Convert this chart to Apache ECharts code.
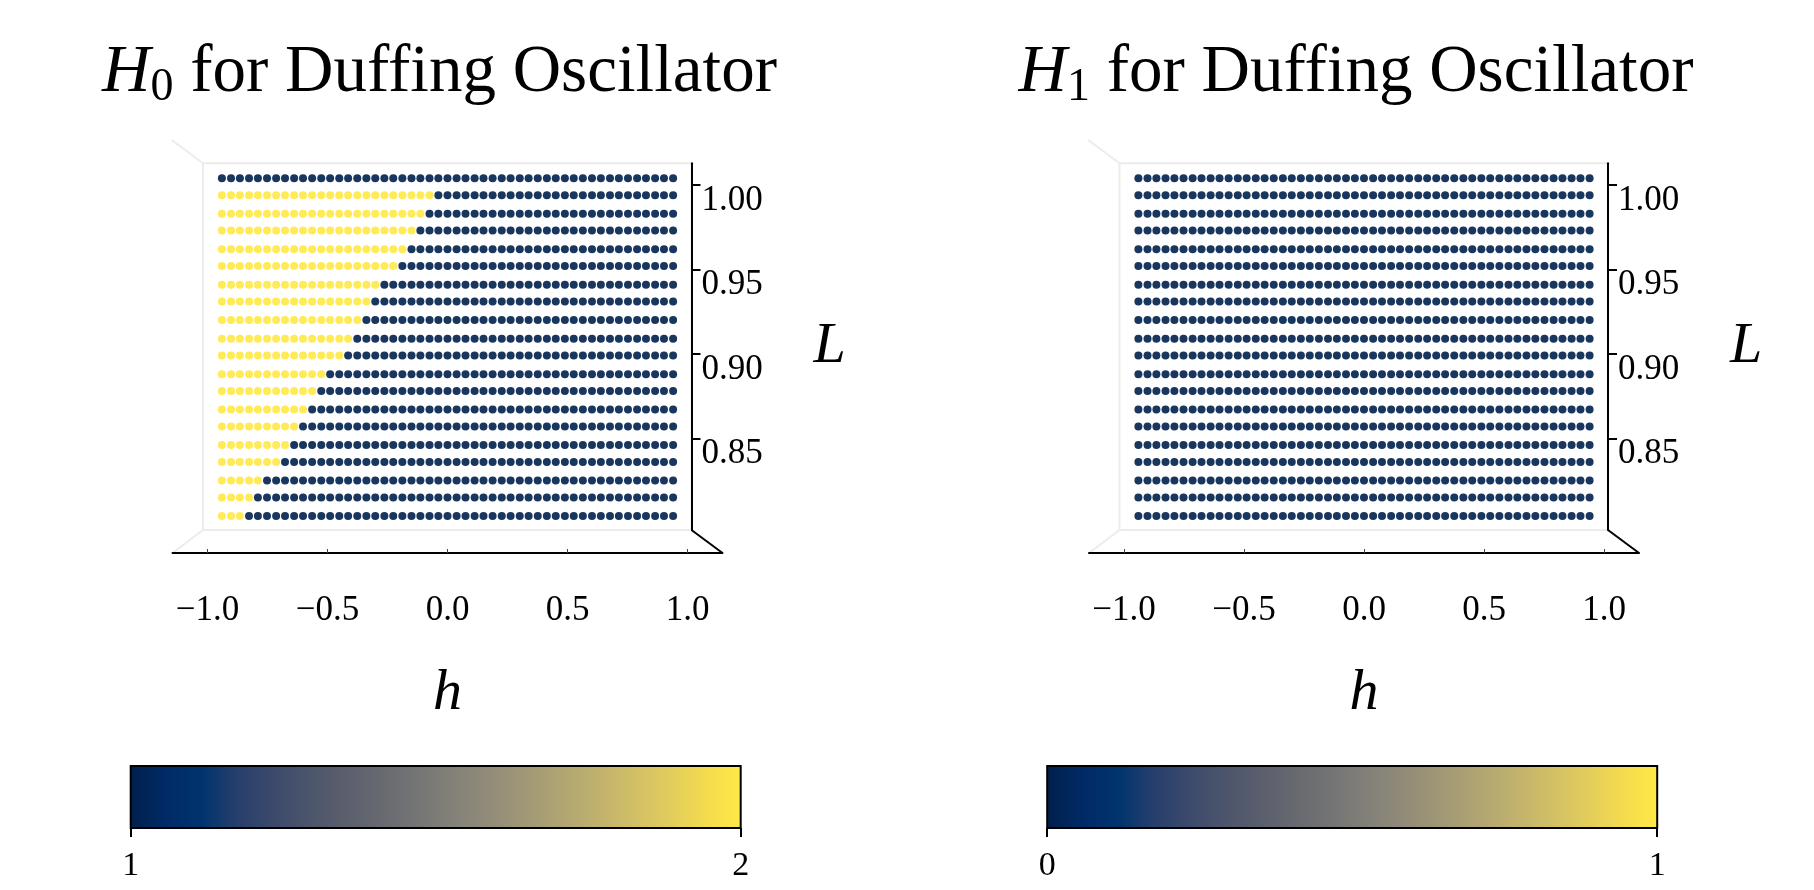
<!DOCTYPE html>
<html>
<head>
<meta charset="UTF-8">
<script src="https://cdn.jsdelivr.net/npm/echarts@6/dist/echarts.min.js"></script>
<style>
    html, body { margin: 0; padding: 0; background: #fff; }
    #main { width: 1814px; height: 890px; }
</style>
</head>
<body>
<div id="main"></div>
<script>
    // grid of (h, L) points
    const hValues = [-0.940, -0.902, -0.865, -0.827, -0.790, -0.752, -0.714, -0.677, -0.639, -0.602,
        -0.564, -0.526, -0.489, -0.451, -0.414, -0.376, -0.338, -0.301, -0.263, -0.226,
        -0.188, -0.150, -0.113, -0.075, -0.038, 0.000, 0.038, 0.075, 0.113, 0.150,
        0.188, 0.226, 0.263, 0.301, 0.338, 0.376, 0.414, 0.451, 0.489, 0.526,
        0.564, 0.602, 0.639, 0.677, 0.714, 0.752, 0.790, 0.827, 0.865, 0.902, 0.940];
    const lValues = [0.804, 0.815, 0.825, 0.836, 0.846, 0.857, 0.867, 0.878, 0.888, 0.899,
        0.909, 0.920, 0.931, 0.941, 0.952, 0.962, 0.973, 0.983, 0.994, 1.004];

    // per L row (bottom -> top): how many points from the left have H0 = 2 (the rest are 1)
    const h0TwoCount = [3, 4, 5, 7, 8, 9, 10, 11, 12, 14, 15, 16, 17, 18, 20, 21, 22, 23, 24, 0];
    // per L row: how many points from the left have H1 = 1 (the rest are 0)
    const h1OneCount = [0, 0, 0, 0, 0, 0, 0, 0, 0, 0, 0, 0, 0, 0, 0, 0, 0, 0, 0, 0];

    const hTicks = [-1, -0.5, 0, 0.5, 1];
    const lTicks = [0.85, 0.90, 0.95, 1.00];
    const h0Range = [1, 2];
    const h1Range = [0, 1];

    const cividis = ['#00204c', '#002a66', '#00346e', '#273f6c', '#3c4a6b', '#4c556b', '#5b5f6d',
        '#686a70', '#757575', '#838178', '#928c78', '#a19876', '#b0a572', '#c0b16d', '#d1bf66',
        '#e1cc5c', '#f3db4f', '#ffe945'];

    function cells(leftCount, leftVal, restVal) {
        let out = [];
        lValues.forEach(function (L, r) {
            hValues.forEach(function (h, c) {
                let v = c < leftCount[r] ? leftVal : restVal;
                out.push([h, L, v]);
            });
        });
        return out;
    }
    let h0Data = cells(h0TwoCount, 2, 1);
    let h1Data = cells(h1OneCount, 1, 0);

    const serif = 'Liberation Serif';
    let grids = [], xAxes = [], yAxes = [], series = [], graphics = [], titles = [], vmaps = [];

    function panel(dx, sub, data, range) {
        let g = grids.length;
        // pane with the points
        grids.push({left: 203 + dx, top: 163.3, width: 488.5, height: 366.7, show: true,
            borderColor: '#ececec', borderWidth: 2, backgroundColor: '#fff', outerBoundsMode: 'none'});
        xAxes.push({gridIndex: g, type: 'value', min: -1.01875, max: 1.01667, show: false});
        yAxes.push({gridIndex: g, type: 'value', position: 'right', min: 0.7957, max: 1.01285,
            name: 'L', nameLocation: 'middle', nameRotate: 0, nameGap: 122,
            nameTextStyle: {fontFamily: serif, fontStyle: 'italic', fontSize: 58, color: '#000'},
            axisLine: {show: true, onZero: false, lineStyle: {color: '#000', width: 2}},
            axisTick: {show: true, length: 9, lineStyle: {color: '#000', width: 2},
                customValues: lTicks},
            axisLabel: {color: '#000', fontFamily: serif, fontSize: 35, margin: 10,
                verticalAlign: 'top', padding: [-2, 0, 0, 0], customValues: lTicks,
                formatter: function (v) { return v.toFixed(2); }},
            splitLine: {show: false}});
        // front h axis
        grids.push({left: 172.5 + dx, top: 540, width: 550, height: 13, show: false, outerBoundsMode: 'none'});
        xAxes.push({gridIndex: g + 1, type: 'value', min: -1.14583, max: 1.14583, position: 'bottom',
            name: 'h', nameLocation: 'middle', nameGap: 112,
            nameTextStyle: {fontFamily: serif, fontStyle: 'italic', fontSize: 58, color: '#000'},
            axisLine: {show: true, onZero: false, lineStyle: {color: '#000', width: 2}},
            axisTick: {show: true, inside: true, length: 4, lineStyle: {color: '#444', width: 1},
                customValues: hTicks},
            axisLabel: {color: '#000', fontFamily: serif, fontSize: 35, margin: 40, customValues: hTicks,
                formatter: function (v) { return (v < 0 ? '\u2212' : '') + Math.abs(v).toFixed(1); }},
            splitLine: {show: false}});
        yAxes.push({gridIndex: g + 1, type: 'value', min: 0, max: 1, show: false});
        // colour bar
        grids.push({left: 130.7 + dx, top: 766, width: 610, height: 62, show: true,
            borderColor: '#000', borderWidth: 2, outerBoundsMode: 'none',
            backgroundColor: {type: 'linear', x: 0, y: 0, x2: 1, y2: 0,
                colorStops: cividis.map(function (c, i) { return {offset: i / (cividis.length - 1), color: c}; })}});
        xAxes.push({gridIndex: g + 2, type: 'value', min: range[0], max: range[1], interval: 1,
            axisLine: {show: false, onZero: false},
            axisTick: {show: true, length: 9, lineStyle: {color: '#000', width: 2}},
            axisLabel: {color: '#000', fontFamily: serif, fontSize: 34, margin: 21},
            splitLine: {show: false}});
        yAxes.push({gridIndex: g + 2, type: 'value', min: 0, max: 1, show: false});

        let si = series.length;
        series.push({type: 'scatter', xAxisIndex: g, yAxisIndex: g, data: data, symbolSize: 8,
            itemStyle: {opacity: 0.9}, silent: true, animation: false});
        vmaps.push({type: 'continuous', show: false, seriesIndex: si, dimension: 2,
            min: range[0], max: range[1], inRange: {color: cividis}});

        titles.push({text: '{H|H}{s|' + sub + '}{t| for Duffing Oscillator}', left: 434.5 + dx, top: 30,
            textAlign: 'center',
            textStyle: {fontWeight: 'normal', rich: {
                H: {fontFamily: serif, fontStyle: 'italic', fontWeight: 'normal', fontSize: 67, lineHeight: 76, color: '#000'},
                s: {fontFamily: serif, fontWeight: 'normal', fontSize: 46, lineHeight: 30, verticalAlign: 'bottom', color: '#000'},
                t: {fontFamily: serif, fontWeight: 'normal', fontSize: 67, lineHeight: 76, color: '#000'}
            }}});

        // 3d box edges
        graphics.push({type: 'line', shape: {x1: 171.7 + dx, y1: 140, x2: 203 + dx, y2: 163.3},
            style: {stroke: '#ececec', lineWidth: 2}});
        graphics.push({type: 'line', shape: {x1: 172.5 + dx, y1: 553, x2: 203 + dx, y2: 530},
            style: {stroke: '#ececec', lineWidth: 2}});
        graphics.push({type: 'line', shape: {x1: 691.5 + dx, y1: 530, x2: 722.5 + dx, y2: 553},
            style: {stroke: '#000', lineWidth: 2}});
    }

    panel(0, '0', h0Data, h0Range);
    panel(916.5, '1', h1Data, h1Range);

    let chart = echarts.init(document.getElementById('main'));
    chart.setOption({
        animation: false,
        backgroundColor: '#fff',
        title: titles,
        grid: grids,
        xAxis: xAxes,
        yAxis: yAxes,
        visualMap: vmaps,
        series: series,
        graphic: graphics
    });
</script>
</body>
</html>
